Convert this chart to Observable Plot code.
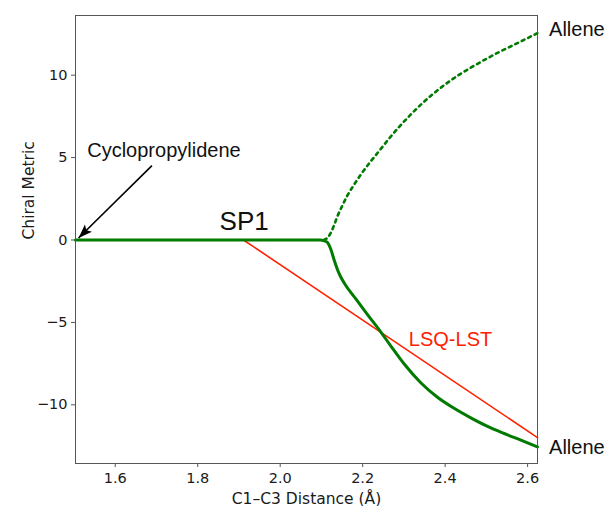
<!DOCTYPE html>
<html>
<head>
<meta charset="utf-8">
<script src="https://cdn.jsdelivr.net/npm/d3@7"></script>
<script src="https://cdn.jsdelivr.net/npm/@observablehq/plot@0.6"></script>
<style>
  html, body { margin: 0; padding: 0; background: #fff; }
  #chart svg { display: block; }
</style>
</head>
<body>
<div id="chart"></div>
<script>
// ---- data ----
const xTicks = [1.6, 1.8, 2.0, 2.2, 2.4, 2.6];
const yTicks = [-10, -5, 0, 5, 10];

// solid green: SP1 plateau then descending branch
const solidX = [1.5036, 1.80, 2.00, 2.08, 2.098, 2.1052, 2.1138, 2.1223, 2.1303, 2.1385, 2.1466, 2.1563, 2.1830, 2.2122, 2.2437, 2.2680, 2.3003, 2.3409, 2.3814, 2.4217, 2.4623, 2.5029, 2.5432, 2.5837, 2.624];
const solidY = [0, 0, 0, 0, 0, -0.04, -0.13, -0.53, -1.17, -1.77, -2.23, -2.65, -3.56, -4.54, -5.57, -6.42, -7.51, -8.66, -9.54, -10.21, -10.79, -11.31, -11.74, -12.14, -12.55];

// dotted green: ascending branch
const dottedX = [2.106, 2.114, 2.122, 2.130, 2.139, 2.151, 2.163, 2.179, 2.195, 2.219, 2.240, 2.264, 2.288, 2.317, 2.345, 2.375, 2.410, 2.462, 2.527, 2.580, 2.624];
const dottedY = [0, 0.12, 0.40, 0.85, 1.45, 2.10, 2.70, 3.35, 3.95, 4.75, 5.40, 6.15, 6.85, 7.62, 8.30, 8.95, 9.62, 10.45, 11.35, 12.00, 12.55];

// red LSQ-LST line
const lsqX = [1.911, 2.624];
const lsqY = [0, -11.99];

// annotations (data coordinates)
const annText = ["SP1", "Cyclopropylidene", "Allene", "Allene", "LSQ-LST"];
const annX = [1.853, 1.532, 2.652, 2.652, 2.312];
const annY = [0.63, 5.06, 12.40, -12.96, -6.42];
const arrowFrom = [1.689, 4.51];
const arrowTo = [1.511, 0.12];

// ---- tables ----
const solid = solidX.map((x, i) => ({x, y: solidY[i]}));
const dotted = dottedX.map((x, i) => ({x, y: dottedY[i]}));
const lsq = lsqX.map((x, i) => ({x, y: lsqY[i]}));
const ann = annText.map((t, i) => ({t, x: annX[i], y: annY[i]}));

// filled arrowhead symbol with its tip at the origin, pointing up
const arrowHead = {
  draw(ctx) {
    ctx.moveTo(0, 0);
    ctx.lineTo(-5, 14);
    ctx.lineTo(0, 11);
    ctx.lineTo(5, 14);
    ctx.closePath();
  }
};

const chart = Plot.plot({
  width: 607,
  height: 506,
  marginLeft: 75,
  marginTop: 15,
  marginRight: 70,
  marginBottom: 43,
  style: {fontFamily: "DejaVu Sans", fontSize: "14.5px", color: "#1a1a1a", background: "white", overflow: "visible"},
  x: {domain: [1.5036, 2.624]},
  y: {domain: [-13.56, 13.62]},
  marks: [
    Plot.axisX({ticks: xTicks, tickFormat: d3.format(".1f"), tickSize: 4, tickPadding: 5, label: null, stroke: "#555"}),
    Plot.axisY({ticks: yTicks, tickFormat: d3.format("d"), tickSize: 4, tickPadding: 4, label: null, stroke: "#555"}),
    Plot.text(["C1\u2013C3 Distance (\u00c5)"], {frameAnchor: "bottom", dy: 40, lineAnchor: "bottom", fontSize: 15.5, fontFamily: "DejaVu Sans", fill: "#1a1a1a"}),
    Plot.text(["Chiral Metric"], {frameAnchor: "left", dx: -42, rotate: -90, lineAnchor: "bottom", fontSize: 15.5, fontFamily: "DejaVu Sans", fill: "#1a1a1a"}),
    Plot.line(lsq, {x: "x", y: "y", stroke: "#ff2200", strokeWidth: 1.6}),
    Plot.line(dotted, {x: "x", y: "y", stroke: "#007a00", strokeWidth: 2.6, strokeDasharray: "3,4.2", curve: "monotone-x"}),
    Plot.line(solid, {x: "x", y: "y", stroke: "#007a00", strokeWidth: 3, curve: "monotone-x"}),
    Plot.frame({stroke: "#555", strokeWidth: 1}),
    Plot.link([{x1: arrowFrom[0], y1: arrowFrom[1], x2: arrowTo[0], y2: arrowTo[1]}], {x1: "x1", y1: "y1", x2: "x2", y2: "y2", stroke: "black", strokeWidth: 1.6}),
    Plot.dot([{x: arrowTo[0], y: arrowTo[1]}], {x: "x", y: "y", symbol: arrowHead, r: 5, rotate: 225, fill: "black", stroke: "none"}),
    Plot.text(ann, {x: "x", y: "y", text: "t", textAnchor: "start", lineAnchor: "bottom", fontFamily: "Liberation Sans",
      fontSize: (d) => d.t === "SP1" ? 26 : 20,
      fill: (d) => d.t === "LSQ-LST" ? "#ff2200" : "#111"})
  ]
});
document.getElementById("chart").append(chart);
</script>
</body>
</html>
